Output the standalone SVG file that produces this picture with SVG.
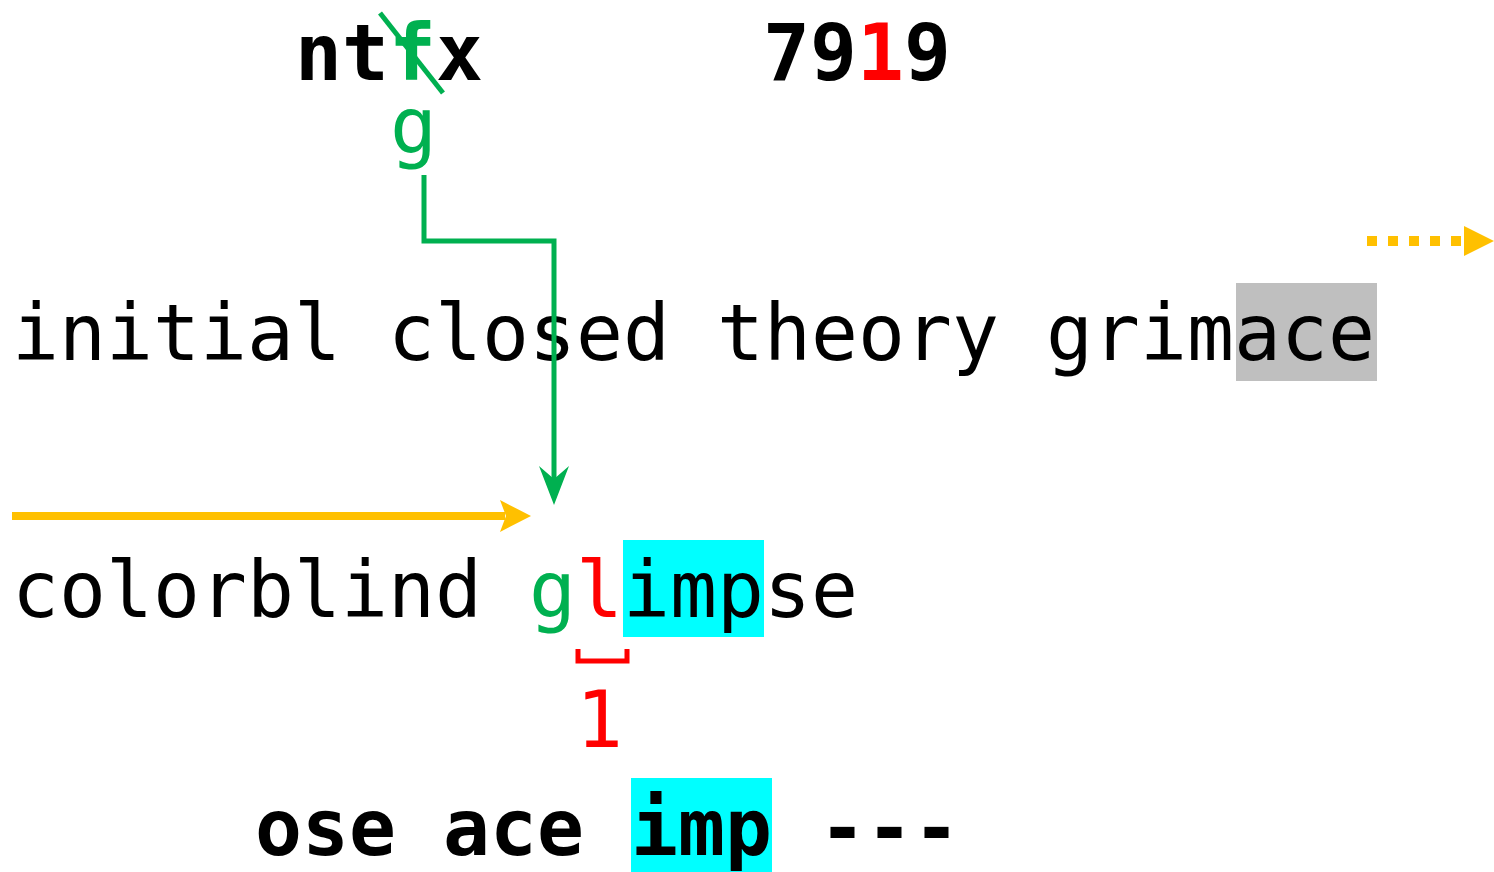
<svg xmlns="http://www.w3.org/2000/svg" width="1494" height="872" viewBox="0 0 1494 872">
<style>
.t{font-family:"DejaVu Sans Mono","Liberation Mono",monospace;font-size:78px;fill:#000}
.b{font-weight:bold}
.g{fill:#00B050}
.r{fill:#FF0000}
</style>
<rect width="1494" height="872" fill="#fff"/>
<g id="top-word">
<text class="t b" x="295" y="80"><tspan>nt</tspan><tspan class="g">f</tspan><tspan>x</tspan></text>
<line x1="380" y1="13" x2="443" y2="93" stroke="#00B050" stroke-width="5"/>
<text class="t g" x="390" y="153">g</text>
</g>
<g id="top-number">
<text class="t b" x="763" y="80">79<tspan class="r">1</tspan>9</text>
</g>
<g id="line1">
<rect x="1236" y="283" width="141" height="98" fill="#BFBFBF"/>
<text class="t" x="12" y="360" textLength="1363" lengthAdjust="spacing">initial closed theory grimace</text>
</g>
<g id="line2">
<rect x="623" y="540" width="141" height="97" fill="#00FFFF"/>
<text class="t" x="12" y="617" textLength="846" lengthAdjust="spacing">colorblind <tspan class="g">g</tspan><tspan class="r">l</tspan>impse</text>
</g>
<g id="bracket">
<path d="M578,649 V661 H627 V649" fill="none" stroke="#FF0000" stroke-width="5"/>
<text class="t r" x="576" y="747">1</text>
</g>
<g id="line3">
<rect x="631" y="778" width="141" height="94" fill="#00FFFF"/>
<text class="t b" x="255" y="855" textLength="705" lengthAdjust="spacing">ose ace imp ---</text>
</g>
<g id="connectors">
<path d="M424,175 V241 H554 V488" fill="none" stroke="#00B050" stroke-width="5"/>
<polygon points="554,505 539,466 554,479 569,466" fill="#00B050"/>
<line x1="12" y1="516" x2="505" y2="516" stroke="#FFC000" stroke-width="8"/>
<polygon points="531,516 500,500 506,516 500,532" fill="#FFC000"/>
<line x1="1367" y1="241" x2="1462" y2="241" stroke="#FFC000" stroke-width="10" stroke-dasharray="10 11"/>
<polygon points="1494,241 1464,226 1464,256" fill="#FFC000"/>
</g>
</svg>
